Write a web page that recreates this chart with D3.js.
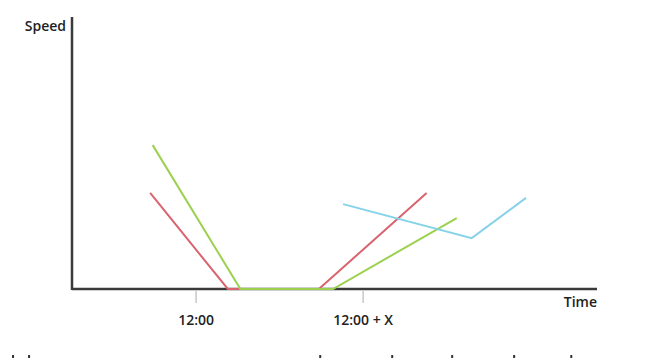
<html>
<head>
	<meta charset='utf-8' />
	<title>Speed over time</title>
	<script src="https://cdn.jsdelivr.net/npm/d3@7"></script>
	<style>
	body { margin: 0; background: #fff; }
	text { font-family: "Open Sans", sans-serif; fill: #222; }
	</style>
</head>
<body>
<script>

	// time in units where 12:00 = 0 and 12:00 + X = 10
	var tickValues = [0, 10];
	var tickLabels = ["12:00", "12:00 + X"];

	var redSeries = [
		{t: -2.75, speed: 35.3},
		{t: 1.9, speed: 0},
		{t: 7.35, speed: 0},
		{t: 13.8, speed: 35.3}
	];
	var greenSeries = [
		{t: -2.6, speed: 52.9},
		{t: 2.65, speed: 0},
		{t: 8.2, speed: 0},
		{t: 15.6, speed: 26.1}
	];
	var blueSeries = [
		{t: 8.8, speed: 31.2},
		{t: 16.5, speed: 18.7},
		{t: 19.75, speed: 33.5}
	];

	// stray marks along the bottom edge of the picture
	var edgeMarks = [-10.96, -10.0, 7.43, 11.74, 15.33, 19.04, 22.46];

	var width = 648, height = 358;

	var svg = d3.select("body").append("svg")
		.attr("width", width)
		.attr("height", height);

	var xScale = d3.scaleLinear().domain([-7.43, 24]).range([72, 597]);
	var yScale = d3.scaleLinear().domain([0, 100]).range([289, 17]);

	var line = d3.line()
		.x(d => xScale(d.t))
		.y(d => yScale(d.speed));

	// axes
	svg.append("line")
		.attr("x1", xScale.range()[0]).attr("x2", xScale.range()[0])
		.attr("y1", yScale.range()[1]).attr("y2", yScale(0) + 1)
		.attr("stroke", "#3a3a3a").attr("stroke-width", 2.5);

	svg.append("line")
		.attr("x1", xScale.range()[0]).attr("x2", xScale.range()[1])
		.attr("y1", yScale(0)).attr("y2", yScale(0))
		.attr("stroke", "#3a3a3a").attr("stroke-width", 2.5);

	var ticks = svg.append("g").selectAll("g")
		.data(tickValues)
		.enter().append("g")
		.attr("transform", d => `translate(${xScale(d)},0)`);

	ticks.append("line")
		.attr("y1", yScale(0) + 2).attr("y2", yScale(0) + 14)
		.attr("stroke", "#c8c8c8").attr("stroke-width", 1.5);

	ticks.append("text")
		.attr("y", yScale(0) + 36)
		.attr("text-anchor", "middle")
		.attr("font-size", "14px")
		.attr("font-weight", 600)
		.text((d, i) => tickLabels[i]);

	svg.append("text")
		.attr("x", xScale.range()[0] - 6)
		.attr("y", yScale.range()[1] + 14)
		.attr("text-anchor", "end")
		.attr("font-size", "14px")
		.attr("font-weight", 600)
		.text("Speed");

	svg.append("text")
		.attr("x", xScale.range()[1])
		.attr("y", yScale(0) + 18)
		.attr("text-anchor", "end")
		.attr("font-size", "14px")
		.attr("font-weight", 600)
		.text("Time");

	// series
	[[redSeries, "#d9646f"], [greenSeries, "#9bd14f"], [blueSeries, "#86d3e8"]].forEach(function(s) {
		svg.append("path")
			.datum(s[0])
			.attr("fill", "none")
			.attr("stroke", s[1])
			.attr("stroke-width", 2)
			.attr("d", line);
	});

	svg.append("g").selectAll("rect")
		.data(edgeMarks)
		.enter().append("rect")
		.attr("x", d => xScale(d) - 1)
		.attr("y", height - 3)
		.attr("width", 2)
		.attr("height", 3)
		.attr("fill", "#333");

</script>
</body>
</html>
